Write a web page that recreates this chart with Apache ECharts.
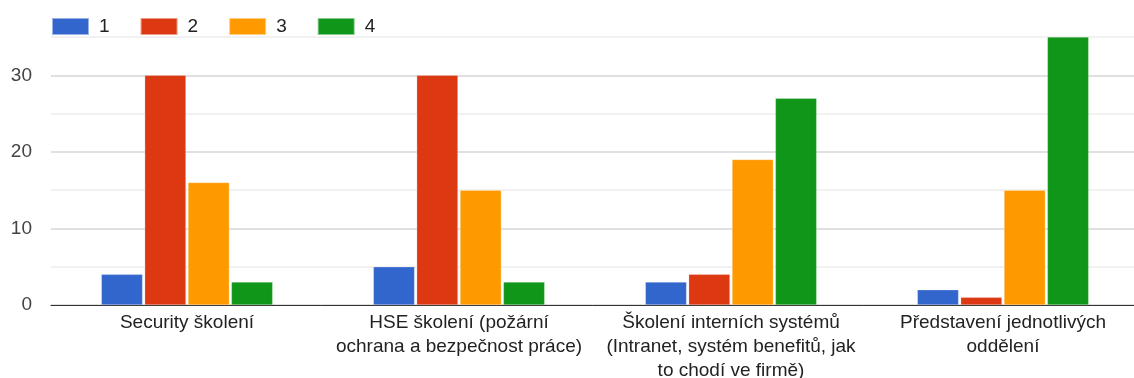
<!DOCTYPE html>
<html>
<head>
<meta charset="utf-8">
<script src="https://cdn.jsdelivr.net/npm/echarts@6/dist/echarts.min.js"></script>
<style>
html,body{margin:0;padding:0;background:#fff;}
#c{width:1134px;height:378px;}
</style>
</head>
<body>
<div id="c"></div>
<script>
const categories = [
  "Security školení",
  "HSE školení (požární\nochrana a bezpečnost práce)",
  "Školení interních systémů\n(Intranet, systém benefitů, jak\nto chodí ve firmě)",
  "Představení jednotlivých\noddělení"
];
const seriesNames = ["1", "2", "3", "4"];
const values1 = [4, 5, 3, 2];
const values2 = [30, 30, 4, 1];
const values3 = [16, 15, 19, 15];
const values4 = [3, 3, 27, 35];
const colors = ["#3366cc", "#dc3912", "#ff9900", "#109618"];

const allValues = [values1, values2, values3, values4];
const font = "'Liberation Sans', Arial, sans-serif";

const chart = echarts.init(document.getElementById('c'), null, {renderer: 'canvas'});
chart.setOption({
  animation: false,
  color: colors,
  legend: {
    left: 51,
    top: 17,
    padding: 0,
    itemWidth: 37,
    itemHeight: 17,
    itemGap: 30,
    icon: 'rect',
    textStyle: {fontFamily: font, fontSize: 19, color: '#222', padding: [0, 0, 0, 5]},
    data: seriesNames
  },
  grid: {left: 51, right: -5, top: 37, bottom: 73, containLabel: false, outerBoundsMode: 'none'},
  xAxis: {
    type: 'category',
    data: categories,
    axisTick: {show: false},
    axisLine: {lineStyle: {color: '#333', width: 1}},
    axisLabel: {
      fontFamily: font, fontSize: 19, color: '#222', lineHeight: 24, margin: 6, interval: 0
    }
  },
  yAxis: {
    type: 'value',
    min: 0,
    max: 35,
    interval: 5,
    axisLine: {show: false},
    axisTick: {show: false},
    axisLabel: {
      fontFamily: font, fontSize: 19, color: '#444', margin: 19,
      formatter: v => (v % 10 === 0 ? String(v) : '')
    },
    splitLine: {lineStyle: {color: ['#d6d6d6', '#ececec'], width: 1.5}}
  },
  series: allValues.map((vals, i) => ({
    name: seriesNames[i],
    type: 'bar',
    data: vals,
    barCategoryGap: '37%',
    barGap: '5%',
    itemStyle: {borderColor: 'rgba(255,255,255,0.5)', borderWidth: 0.5}
  }))
});
</script>
</body>
</html>
